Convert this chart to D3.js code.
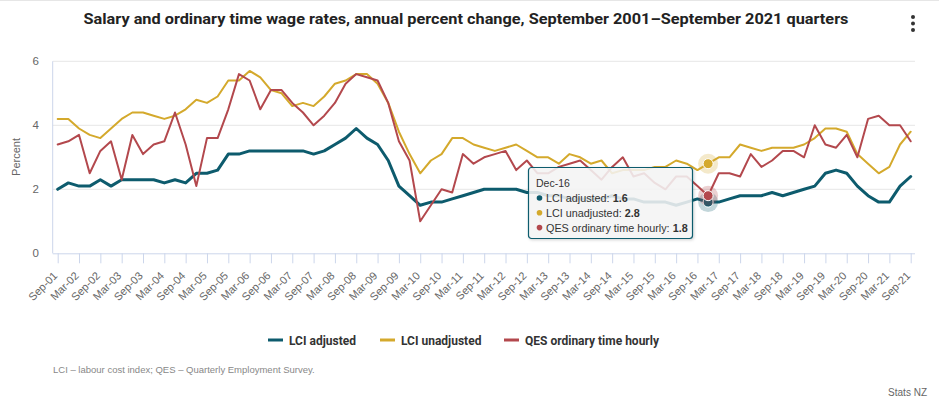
<!DOCTYPE html>
<html>
<head>
<meta charset="utf-8">
<script src="https://cdn.jsdelivr.net/npm/d3@7/dist/d3.min.js"></script>
<style>
  body { margin: 0; background: #fff; }
  svg { display: block; font-family: "Liberation Sans", Arial, sans-serif; }
</style>
</head>
<body>
<div id="chart"></div>
<script>
// quarters Sep-01 .. Sep-21
const months = ["Mar", "Jun", "Sep", "Dec"];
const quarters = [];
for (let yr = 2001; yr <= 2021; yr++) {
  months.forEach((m, k) => {
    if (yr === 2001 && k < 2) return;
    if (yr === 2021 && k === 3) return;
    quarters.push(m + "-" + String(yr).slice(2));
  });
}

const lciAdjusted = [
  2.0, 2.2, 2.1, 2.1, 2.3, 2.1, 2.3, 2.3, 2.3, 2.3, 2.2, 2.3, 2.2, 2.5, 2.5, 2.6,
  3.1, 3.1, 3.2, 3.2, 3.2, 3.2, 3.2, 3.2, 3.1, 3.2, 3.4, 3.6, 3.9, 3.6, 3.4, 2.9,
  2.1, 1.8, 1.5, 1.6, 1.6, 1.7, 1.8, 1.9, 2.0, 2.0, 2.0, 2.0, 1.9, 1.9, 1.8, 1.8,
  1.7, 1.7, 1.7, 1.7, 1.8, 1.7, 1.7, 1.6, 1.6, 1.6, 1.5, 1.6, 1.7, 1.6, 1.6, 1.7,
  1.8, 1.8, 1.8, 1.9, 1.8, 1.9, 2.0, 2.1, 2.5, 2.6, 2.5, 2.1, 1.8, 1.6, 1.6, 2.1,
  2.4
];

const lciUnadjusted = [
  4.2, 4.2, 3.9, 3.7, 3.6, 3.9, 4.2, 4.4, 4.4, 4.3, 4.2, 4.3, 4.5, 4.8, 4.7, 4.9,
  5.4, 5.4, 5.7, 5.5, 5.1, 5.0, 4.6, 4.7, 4.6, 4.9, 5.3, 5.4, 5.6, 5.6, 5.3, 4.7,
  3.8, 3.1, 2.5, 2.9, 3.1, 3.6, 3.6, 3.4, 3.3, 3.2, 3.3, 3.4, 3.2, 3.0, 3.0, 2.8,
  3.1, 3.0, 2.8, 2.9, 2.5, 2.6, 2.6, 2.6, 2.7, 2.7, 2.9, 2.8, 2.6, 2.8, 3.0, 3.0,
  3.4, 3.3, 3.2, 3.3, 3.3, 3.3, 3.4, 3.6, 3.9, 3.9, 3.8, 3.1, 2.8, 2.5, 2.7, 3.4,
  3.8
];

const qesHourly = [
  3.4, 3.5, 3.7, 2.5, 3.2, 3.5, 2.3, 3.7, 3.1, 3.4, 3.5, 4.4, 3.4, 2.1, 3.6, 3.6,
  4.5, 5.6, 5.4, 4.5, 5.1, 5.1, 4.7, 4.4, 4.0, 4.3, 4.7, 5.3, 5.6, 5.5, 5.4, 4.7,
  3.5, 2.9, 1.0, 1.5, 2.0, 1.9, 3.1, 2.8, 3.0, 3.1, 3.2, 2.6, 2.9, 2.5, 2.5, 2.7,
  2.8, 2.9, 2.6, 2.3, 2.7, 3.0, 2.4, 2.5, 2.2, 2.0, 2.4, 2.4, 2.1, 1.8, 2.5, 2.5,
  2.4, 3.1, 2.7, 2.9, 3.2, 3.2, 3.0, 4.0, 3.4, 3.3, 3.7, 3.0, 4.2, 4.3, 4.0, 4.0,
  3.5
];

const seriesNames = ["LCI adjusted", "LCI unadjusted", "QES ordinary time hourly"];
const seriesColors = ["#0d5b6d", "#d4a92c", "#b3484d"];
const yTicks = [0, 2, 4, 6];
const tickLabels = quarters.filter((d, i) => i % 2 === 0);
const hoverQuarter = "Dec-16";

const series = [lciAdjusted, lciUnadjusted, qesHourly].map((values, k) => ({
  name: seriesNames[k],
  color: seriesColors[k],
  width: k === 0 ? 3 : 2,
  values: values
}));

const width = 939, height = 404;
const plot = {left: 52.7, right: 915, top: 61.3, bottom: 253.3};

const x = d3.scaleLinear()
    .domain([0, quarters.length - 1])
    .range([plot.left + 5, plot.right - 4.3]);

const y = d3.scaleLinear()
    .domain([0, 6])
    .range([plot.bottom, plot.top]);

const svg = d3.select("#chart")
  .append("svg")
    .attr("width", width)
    .attr("height", height);

svg.append("line")
    .attr("x1", 0).attr("x2", width)
    .attr("y1", 0.5).attr("y2", 0.5)
    .attr("stroke", "#e6e6e6");

// title
svg.append("text")
    .attr("x", 466)
    .attr("y", 24)
    .attr("text-anchor", "middle")
    .attr("font-family", "Roboto, 'Liberation Sans', sans-serif")
    .attr("font-weight", "bold")
    .attr("font-size", 14.5)
    .attr("fill", "#222")
    .attr("textLength", 765)
    .attr("lengthAdjust", "spacingAndGlyphs")
    .text("Salary and ordinary time wage rates, annual percent change, September 2001\u2013September 2021 quarters");

// menu dots
svg.append("g")
    .selectAll("circle")
    .data([0, 1, 2])
    .join("circle")
    .attr("cx", 913)
    .attr("cy", d => 17 + d * 6.5)
    .attr("r", 2)
    .attr("fill", "#333");

// grid
svg.append("g")
    .selectAll("line")
    .data(yTicks.filter(d => d > 0))
    .join("line")
    .attr("x1", plot.left).attr("x2", plot.right)
    .attr("y1", d => y(d)).attr("y2", d => y(d))
    .attr("stroke", "#e6e6e6");

// y axis
svg.append("line")
    .attr("x1", plot.left).attr("x2", plot.left)
    .attr("y1", plot.top).attr("y2", plot.bottom)
    .attr("stroke", "#ccd6eb");

svg.append("g")
    .selectAll("text")
    .data(yTicks)
    .join("text")
    .attr("x", 39)
    .attr("y", d => y(d) + 4)
    .attr("text-anchor", "end")
    .attr("font-size", 11.5)
    .attr("fill", "#666")
    .text(d => d);

svg.append("text")
    .attr("transform", "translate(20,157) rotate(-90)")
    .attr("text-anchor", "middle")
    .attr("font-size", 11)
    .attr("fill", "#666")
    .text("Percent");

// x axis
const xAxis = d3.axisBottom(x)
    .tickValues(d3.range(0, quarters.length, 2))
    .tickSize(10)
    .tickFormat(i => quarters[i]);

const gx = svg.append("g")
    .attr("transform", `translate(0,${plot.bottom})`)
    .call(xAxis);

gx.select(".domain")
    .attr("d", `M${plot.left},0.5H${plot.right}`)
    .attr("stroke", "#ccd6eb");

gx.selectAll(".tick line").attr("stroke", "#ccd6eb");

gx.selectAll(".tick text")
    .attr("font-family", "'Liberation Sans', Arial, sans-serif")
    .attr("font-size", 11)
    .attr("fill", "#666")
    .attr("text-anchor", "end")
    .attr("dy", null)
    .attr("y", null)
    .attr("transform", "translate(0,23) rotate(-45)");

// lines
const line = d3.line()
    .x((d, i) => x(i))
    .y(d => y(d));

svg.append("g")
    .attr("fill", "none")
    .attr("stroke-linejoin", "round")
    .attr("stroke-linecap", "round")
    .selectAll("path")
    .data(series)
    .join("path")
    .attr("stroke", d => d.color)
    .attr("stroke-width", d => d.width)
    .attr("d", d => line(d.values));

// hover markers
const hi = quarters.indexOf(hoverQuarter);
const markers = svg.append("g")
    .selectAll("g")
    .data(series)
    .join("g")
    .attr("transform", d => `translate(${x(hi)},${y(d.values[hi])})`);

markers.append("circle")
    .attr("r", 10)
    .attr("fill", d => d.color)
    .attr("fill-opacity", 0.25);

markers.append("circle")
    .attr("r", 5)
    .attr("fill", d => d.color)
    .attr("stroke", "#fff")
    .attr("stroke-width", 1);

// tooltip
const defs = svg.append("defs");
defs.append("filter")
    .attr("id", "shadow")
    .attr("x", "-10%").attr("y", "-10%")
    .attr("width", "130%").attr("height", "130%")
  .append("feDropShadow")
    .attr("dx", 1).attr("dy", 1)
    .attr("stdDeviation", 1.5)
    .attr("flood-color", "#000")
    .attr("flood-opacity", 0.2);

const tip = svg.append("g")
    .attr("transform", "translate(528,167)");

tip.append("rect")
    .attr("x", 0.5).attr("y", 0.5)
    .attr("width", 164).attr("height", 71)
    .attr("rx", 3)
    .attr("fill", "#f7f7f7")
    .attr("fill-opacity", 0.85)
    .attr("stroke", seriesColors[0])
    .attr("stroke-width", 1.2)
    .attr("filter", "url(#shadow)");

tip.append("text")
    .attr("x", 8).attr("y", 20)
    .attr("font-size", 10.5)
    .attr("fill", "#333")
    .text(hoverQuarter);

const rows = tip.selectAll("g.row")
    .data(series)
    .join("g")
    .attr("class", "row")
    .attr("transform", (d, k) => `translate(8,${35 + k * 14.8})`);

rows.append("circle")
    .attr("cx", 3.5).attr("cy", -4)
    .attr("r", 2.8)
    .attr("fill", d => d.color);

rows.append("text")
    .attr("x", 10)
    .attr("font-size", 10.8)
    .attr("fill", "#333")
    .call(t => t.append("tspan").text(d => d.name + ": "))
    .call(t => t.append("tspan").attr("font-weight", "bold").text(d => d.values[hi].toFixed(1)));

// legend
const legendX = [268, 380, 504];
const legend = svg.append("g")
    .selectAll("g")
    .data(series)
    .join("g")
    .attr("transform", (d, k) => `translate(${legendX[k]},340)`);

legend.append("line")
    .attr("x1", 0).attr("x2", 15)
    .attr("stroke", d => d.color)
    .attr("stroke-width", 3);

legend.append("text")
    .attr("x", 21)
    .attr("y", 4.5)
    .attr("font-family", "Roboto, 'Liberation Sans', sans-serif")
    .attr("font-weight", "bold")
    .attr("font-size", 12)
    .attr("fill", "#333")
    .text(d => d.name);

// notes
svg.append("text")
    .attr("x", 53)
    .attr("y", 373)
    .attr("font-size", 9.5)
    .attr("fill", "#888")
    .text("LCI \u2013 labour cost index; QES \u2013 Quarterly Employment Survey.");

svg.append("text")
    .attr("x", 927)
    .attr("y", 396)
    .attr("text-anchor", "end")
    .attr("font-size", 10)
    .attr("fill", "#666")
    .text("Stats NZ");
</script>
</body>
</html>
